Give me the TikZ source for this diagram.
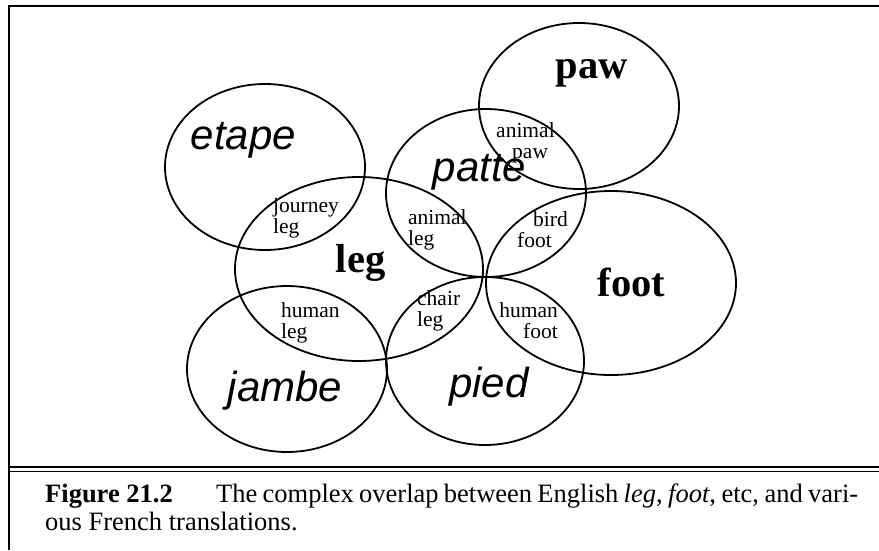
\documentclass[tikz,border=0pt]{standalone}
\usepackage{fontspec}
\setmainfont{Liberation Serif}
\newfontfamily\frsans{Liberation Sans}
\usetikzlibrary{shapes.geometric}
\begin{document}
\begin{tikzpicture}[x=1pt,y=-1pt,
  setring/.style={draw, ellipse, line width=1.8pt, inner sep=0pt},
  bigeng/.style={anchor=base, inner sep=0pt, font=\fontsize{40.5}{40}\selectfont\bfseries},
  bigfr/.style={anchor=base, inner sep=0pt, font=\frsans\fontsize{42}{42}\selectfont\itshape},
  smalllbl/.style={inner sep=0pt, font=\fontsize{21.5}{21}\selectfont},
  captxt/.style={anchor=base west, inner sep=0pt, font=\fontsize{26.5}{30}\selectfont},
  framelin/.style={line width=1.6pt}]
\useasboundingbox (0,0) rectangle (879,550);
% frame
\coordinate (ftr) at (879,6);
\coordinate (ftl) at (9,6);
\coordinate (fbl) at (9,550);
\draw[framelin, line join=miter] (ftr) -- (ftl) -- (fbl);
\coordinate (d1l) at (9,467); \coordinate (d1r) at (879,467);
\coordinate (d2l) at (9,471.5); \coordinate (d2r) at (879,471.5);
\draw[framelin] (d1l) -- (d1r);
\draw[framelin] (d2l) -- (d2r);
% ellipses
\node[setring, minimum width=200pt, minimum height=166pt] (pawE) at (579,106) {};
\node[setring, minimum width=200pt, minimum height=166pt] (etapeE) at (265,167) {};
\node[setring, minimum width=200pt, minimum height=168pt] (patteE) at (486,193) {};
\node[setring, minimum width=248pt, minimum height=184pt] (legE) at (359,269) {};
\node[setring, minimum width=250pt, minimum height=184pt] (footE) at (611,283) {};
\node[setring, minimum width=200pt, minimum height=166pt] (jambeE) at (287,369) {};
\node[setring, minimum width=198pt, minimum height=168pt] (piedE) at (485,361) {};
% big words
\node[bigeng] (paw) at (591.5,78) {paw};
\node[bigeng] (leg) at (360.5,272) {leg};
\node[bigeng] (foot) at (631.5,296) {foot};
\node[bigfr] (etape) at (243.5,149) {etape};
\node[bigfr] (patte) at (479.5,181) {patte};
\node[bigfr] (jambe) at (285,401) {jambe};
\node[bigfr] (pied) at (489,397) {pied};
% overlap labels
\node[smalllbl, anchor=base west] (anipaw) at (496,137) {\begin{tabular}[t]{@{}l@{}}animal\\\hspace*{16pt}paw\end{tabular}};
\node[smalllbl, anchor=base west] (jourleg) at (273,212) {\begin{tabular}[t]{@{}l@{}}journey\\leg\end{tabular}};
\node[smalllbl, anchor=base west] (anileg) at (408,224) {\begin{tabular}[t]{@{}l@{}}animal\\leg\end{tabular}};
\node[smalllbl, anchor=base west] (birdfoot) at (517,226) {\begin{tabular}[t]{@{}l@{}}\hspace*{16pt}bird\\foot\end{tabular}};
\node[smalllbl, anchor=base west] (humleg) at (281,317) {\begin{tabular}[t]{@{}l@{}}human\\leg\end{tabular}};
\node[smalllbl, anchor=base west] (chairleg) at (417,305) {\begin{tabular}[t]{@{}l@{}}chair\\leg\end{tabular}};
\node[smalllbl, anchor=base east] (humfoot) at (558,317) {\begin{tabular}[t]{@{}r@{}}human\\foot\end{tabular}};
% caption
\node[captxt] (figlbl) at (45,502) {\textbf{Figure 21.2}};
\node[captxt] (cap1) at (216,502) {\makebox[642pt][s]{The complex overlap between English \textit{leg}, \textit{foot}, etc, and vari-}};
\node[captxt] (cap2) at (45,530) {ous French translations.};
\end{tikzpicture}
\end{document}
